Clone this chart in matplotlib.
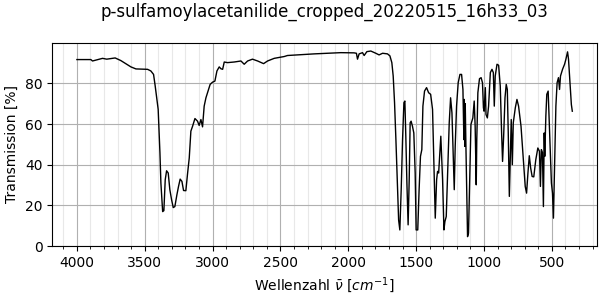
import matplotlib
matplotlib.use("Agg")
import matplotlib.pyplot as plt
from matplotlib.ticker import MultipleLocator

title = "p-sulfamoylacetanilide_cropped_20220515_16h33_03"

wavenumber = [
    4000, 3897, 3885, 3811, 3780, 3718, 3676, 3602, 3565, 3479, 3455, 3435, 3423, 3410, 3401,
    3388, 3381, 3368, 3359, 3349, 3339, 3327, 3315, 3302, 3290, 3278, 3263, 3251, 3239, 3226,
    3214, 3197, 3184, 3172, 3160, 3147, 3130, 3111, 3099, 3086, 3074, 3062, 3049, 3037, 3018,
    3000, 2983, 2968, 2951, 2939, 2926, 2914, 2890, 2841, 2791, 2767, 2742, 2706, 2668, 2624,
    2595, 2546, 2472, 2448, 2350, 2251, 2153, 2055, 1957, 1940, 1932, 1920, 1895, 1883, 1863,
    1834, 1797, 1773, 1747, 1711, 1693, 1679, 1669, 1659, 1649, 1639, 1629, 1620, 1610, 1600,
    1590, 1583, 1576, 1568, 1559, 1551, 1544, 1537, 1527, 1517, 1507, 1500, 1488, 1478, 1468,
    1458, 1450, 1438, 1423, 1408, 1393, 1379, 1366, 1359, 1349, 1342, 1334, 1327, 1318, 1305,
    1295, 1288, 1278, 1268, 1256, 1246, 1236, 1226, 1219, 1212, 1202, 1190, 1177, 1165, 1155,
    1148, 1145, 1141, 1138, 1133, 1121, 1114, 1104, 1096, 1082, 1072, 1065, 1057, 1053, 1045,
    1033, 1021, 1011, 1004, 999, 990, 985, 975, 966, 953, 941, 931, 924, 917, 904,
    892, 880, 870, 863, 855, 845, 836, 828, 821, 813, 806, 799, 791, 784, 769,
    757, 745, 727, 710, 696, 686, 676, 666, 656, 645, 633, 618, 603, 591, 584,
    577, 569, 562, 556, 552, 544, 537, 527, 520, 512, 503, 495, 488, 481, 470,
    461, 451, 443, 436, 421, 406, 396, 384, 377, 366, 356, 349,
]

transmission = [
    91.7, 91.7, 91.0, 92.3, 91.9, 92.5, 91.2, 88.1, 87.1, 86.9, 86.1, 84.4, 78.7, 72.1, 67.2,
    45.8, 31.0, 16.9, 17.4, 32.6, 37.0, 35.9, 27.7, 22.7, 18.9, 19.4, 25.2, 29.3, 32.9, 31.8,
    27.3, 27.2, 35.9, 43.3, 56.5, 59.0, 62.7, 61.4, 59.3, 62.2, 58.6, 68.8, 72.9, 75.4, 79.5,
    80.6, 81.1, 86.1, 88.1, 87.2, 86.9, 90.5, 90.2, 90.5, 91.0, 89.4, 91.0, 91.9, 91.0, 89.7,
    91.0, 92.3, 93.2, 93.7, 94.1, 94.5, 94.8, 95.1, 95.0, 94.8, 91.9, 94.5, 95.1, 93.7, 95.6,
    95.9, 94.8, 94.0, 94.8, 94.5, 93.5, 90.2, 83.6, 70.5, 52.3, 32.6, 12.8, 7.9, 27.7, 52.3,
    70.5, 71.3, 54.0, 31.0, 10.4, 32.6, 60.6, 61.4, 58.9, 55.6, 35.9, 7.9, 7.9, 27.7, 44.1,
    47.4, 68.8, 76.2, 77.9, 75.4, 74.6, 67.2, 32.6, 13.7, 32.6, 36.7, 35.9, 44.1, 54.0, 32.6,
    7.9, 12.0, 14.5, 35.9, 60.6, 72.9, 65.5, 42.5, 27.7, 49.0, 68.8, 80.3, 84.4, 84.4, 77.0,
    52.3, 72.1, 49.0, 70.0, 49.0, 4.6, 6.3, 35.9, 59.8, 63.0, 71.3, 58.9, 30.1, 52.3, 75.4,
    82.3, 82.8, 80.3, 68.0, 66.3, 77.9, 64.7, 63.0, 68.8, 85.3, 86.9, 85.3, 68.8, 83.6, 89.4,
    88.9, 78.7, 55.6, 41.6, 54.0, 72.9, 79.5, 77.0, 55.6, 24.4, 44.1, 62.2, 40.0, 60.6, 68.0,
    72.1, 68.8, 58.9, 42.5, 29.3, 26.0, 35.9, 44.4, 38.4, 34.2, 34.0, 42.5, 48.2, 46.6, 29.3,
    47.4, 46.0, 19.4, 55.6, 44.1, 63.9, 74.6, 76.2, 63.0, 47.4, 31.0, 26.0, 13.7, 35.9, 68.8,
    80.3, 82.8, 77.0, 83.6, 86.9, 89.4, 91.9, 95.5, 91.9, 80.3, 69.6, 66.3,
]

fig = plt.figure(figsize=(6, 3), dpi=100)
ax = fig.add_axes([0.087, 0.18, 0.908, 0.677])
ax.plot(wavenumber, transmission, color="black", linewidth=1.0)

ax.set_xlim(4182, 167)
ax.set_ylim(0, 99.9)
ax.xaxis.set_major_locator(MultipleLocator(500))
ax.xaxis.set_minor_locator(MultipleLocator(100))
ax.yaxis.set_major_locator(MultipleLocator(20))
ax.grid(which="major", color="#b0b0b0", linewidth=0.8)
ax.grid(which="minor", axis="x", color="#e8e8e8", linewidth=0.8)
ax.set_axisbelow(True)

ax.set_title(title, fontsize=12, pad=19)
ax.set_xlabel(r"Wellenzahl $\bar{\nu}$ [$cm^{-1}$]")
ax.set_ylabel("Transmission [%]")

fig.savefig("out.png", dpi=100)
